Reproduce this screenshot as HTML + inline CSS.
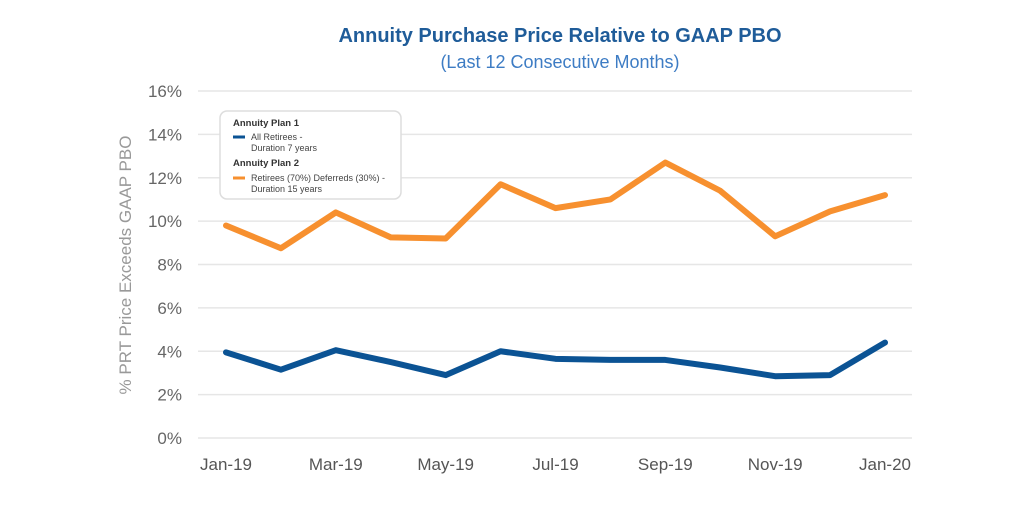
<!DOCTYPE html>
<html><head><meta charset="utf-8"><style>
body{margin:0;background:#fff;width:1024px;height:512px;overflow:hidden;font-family:"Liberation Sans",sans-serif}
</style></head><body>
<svg width="1024" height="512" xmlns="http://www.w3.org/2000/svg">
<text x="560" y="42" text-anchor="middle" font-size="20" font-weight="bold" fill="#1f5c99">Annuity Purchase Price Relative to GAAP PBO</text>
<text x="560" y="68" text-anchor="middle" font-size="18" fill="#3d7cc4">(Last 12 Consecutive Months)</text>
<g id="grid"></g><g id="yt"></g><g id="xt"></g>
<text transform="translate(131,265) rotate(-90)" text-anchor="middle" font-size="17" fill="#999">% PRT Price Exceeds GAAP PBO</text>
<g id="series"></g>
<g>
<rect x="220" y="111" width="181" height="88" rx="7" fill="#fff" stroke="#ddd" stroke-width="1.5"/>
<text x="233" y="126" font-size="9.5" font-weight="bold" fill="#333">Annuity Plan 1</text>
<line x1="233" y1="137" x2="245" y2="137" stroke="#0b5394" stroke-width="3"/>
<text x="251" y="140" font-size="9" fill="#444">All Retirees -</text>
<text x="251" y="151" font-size="9" fill="#444">Duration 7 years</text>
<text x="233" y="166" font-size="9.5" font-weight="bold" fill="#333">Annuity Plan 2</text>
<line x1="233" y1="178" x2="245" y2="178" stroke="#f7902f" stroke-width="3"/>
<text x="251" y="181" font-size="9" fill="#444">Retirees (70%) Deferreds (30%) -</text>
<text x="251" y="192" font-size="9" fill="#444">Duration 15 years</text>
</g>
</svg>
<script>
const months=["Jan-19","Feb-19","Mar-19","Apr-19","May-19","Jun-19","Jul-19","Aug-19","Sep-19","Oct-19","Nov-19","Dec-19","Jan-20"];
const plan1=[3.95,3.15,4.05,3.5,2.9,4.0,3.65,3.6,3.6,3.25,2.85,2.9,4.4];
const plan2=[9.8,8.75,10.4,9.25,9.2,11.7,10.6,11.0,12.7,11.4,9.3,10.45,11.2];
const yTicks=[0,2,4,6,8,10,12,14,16];
const NS="http://www.w3.org/2000/svg";
const x0=226,x1=885,yb=438,yt=91;
const X=i=>x0+(x1-x0)*i/(months.length-1);
const Y=v=>yb-(yb-yt)*v/16;
function mk(t,a,p){const e=document.createElementNS(NS,t);for(const k in a)e.setAttribute(k,a[k]);p.appendChild(e);return e;}
const grid=document.getElementById('grid'),ytg=document.getElementById('yt'),xtg=document.getElementById('xt'),sg=document.getElementById('series');
yTicks.forEach(v=>{
 const l=mk('line',{x1:198,x2:912,y1:Y(v),y2:Y(v),stroke:'#e6e6e6','stroke-width':1.5},grid);
 
 
 const t=mk('text',{x:182,y:Y(v)+6,'text-anchor':'end','font-size':17,fill:'#666'},ytg);
 t.textContent=v+'%';
 
 
});
months.forEach((m,i)=>{ if(i%2) return;
 const t=mk('text',{x:X(i),y:470,'text-anchor':'middle','font-size':17,fill:'#555'},xtg);
 t.textContent=m;
 
 
});
function line(d,c,name){
 const p=mk('polyline',{points:d.map((v,i)=>X(i)+','+Y(v)).join(' '),fill:'none',stroke:c,'stroke-width':6,'stroke-linejoin':'round','stroke-linecap':'round'},sg);
 
 
}
line(plan2,'#f7902f','plan2-line');
line(plan1,'#0b5394','plan1-line');
</script>
</body></html>
